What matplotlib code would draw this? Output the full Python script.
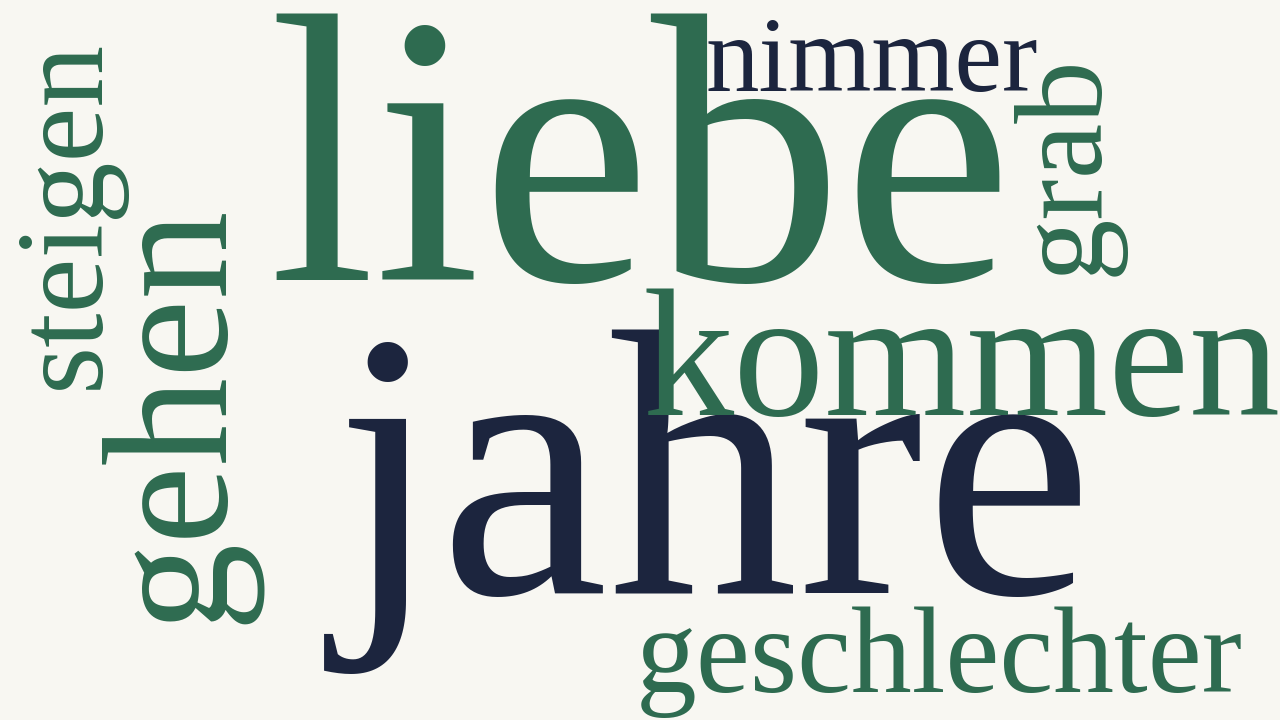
import matplotlib
matplotlib.use("Agg")
import matplotlib.pyplot as plt
from matplotlib.textpath import TextPath
from matplotlib.font_manager import FontProperties
import numpy as np

# ---- data ----
words = ["jahre", "liebe", "kommen", "gehen", "geschlechter", "steigen", "nimmer", "grab"]
weights = [100, 98, 52, 50, 44, 40, 30, 26]
color_groups = ["navy", "green", "green", "green", "green", "green", "navy", "green"]
orientations = [0, 0, 0, 90, 0, 90, 0, 90]

# ---- style ----
BG = "#f8f7f2"
PALETTE = {"green": "#2e6b50", "navy": "#1c253e"}
FONT = FontProperties(family="Liberation Serif")

# ---- layout: target ink boxes (left, top, right, bottom) in pixels ----
layout = {
    "liebe": (278, 13, 999, 284),
    "nimmer": (708, 20, 1037, 92),
    "kommen": (648, 288, 1276, 417),
    "jahre": (310, 336, 1095, 668),
    "geschlechter": (625, 610, 1258, 715),
    "grab": (1013, 53, 1120, 277),
    "steigen": (17, 37, 123, 388),
    "gehen": (100, 195, 253, 627),
}

W, H, DPI = 1280, 720, 100
fig = plt.figure(figsize=(W / DPI, H / DPI), dpi=DPI)
fig.patch.set_facecolor(BG)
ax = fig.add_axes([0, 0, 1, 1])
ax.set_xlim(0, W)
ax.set_ylim(H, 0)
ax.axis("off")
ax.set_facecolor(BG)

REF = 100.0
for word, wgt, cg, rot in zip(words, weights, color_groups, orientations):
    tp = TextPath((0, 0), word, size=REF, prop=FONT)
    ext = tp.get_extents()
    x0, y0, x1, y1 = ext.x0, ext.y0, ext.x1, ext.y1
    L, T, R, B = layout[word]
    tw, th = R - L, B - T
    px = DPI / 72.0
    if rot == 0:
        iw, ih = (x1 - x0) * px, (y1 - y0) * px
    else:
        iw, ih = (y1 - y0) * px, (x1 - x0) * px
    s = np.sqrt((tw / iw) * (th / ih))
    F = REF * s
    k = s * px  # pixels per TextPath unit
    cx, cy = (L + R) / 2, (T + B) / 2
    if rot == 0:
        ox = cx - (x0 + x1) / 2 * k
        oy = cy + (y0 + y1) / 2 * k
    else:
        ox = cx + (y0 + y1) / 2 * k
        oy = cy + (x0 + x1) / 2 * k
    ax.text(ox, oy, word, fontproperties=FONT, fontsize=F, rotation=rot,
            rotation_mode="anchor", ha="left", va="baseline",
            color=PALETTE[cg])

fig.savefig("out.png", dpi=DPI, facecolor=BG)
